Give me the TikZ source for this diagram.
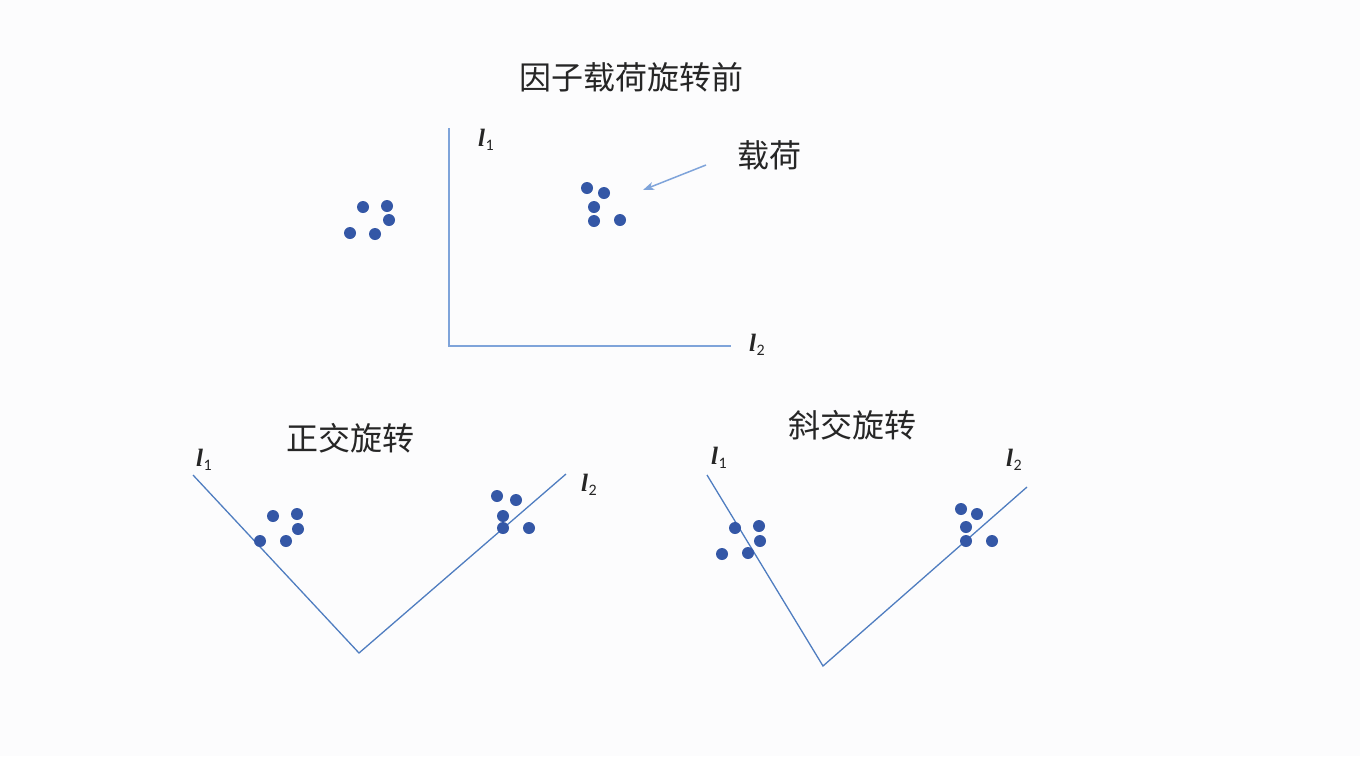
\documentclass[tikz,border=0pt]{standalone}
\usepackage{fontspec}
\newfontfamily\cjk{Noto Sans CJK SC}
\newfontfamily\lab{Carlito}
\newfontfamily\ellfont{Liberation Serif}
\usetikzlibrary{arrows.meta}
\definecolor{bg}{HTML}{FCFCFD}
\definecolor{axisA}{HTML}{7FA4DA}
\definecolor{axisB}{HTML}{4F7DC0}
\definecolor{dotc}{HTML}{3457A6}
\tikzset{
  dotp/.style={circle,fill=dotc,inner sep=0pt,minimum width=12pt,minimum height=11pt},
  ttl/.style={font=\cjk\fontsize{32}{34}\selectfont,text=black!85,inner sep=0pt},
  axlab/.style={font=\ellfont\itshape\bfseries\fontsize{25}{27}\selectfont,text=black!85,inner sep=0pt},
  axtop/.style={draw=axisA,line width=2.2pt},
  axbot/.style={draw=axisB,line width=1.3pt},
}
\newcommand{\lsub}[1]{l\kern0.5pt\raisebox{-0.4ex}{\lab\fontsize{16}{17}\selectfont\upshape\mdseries #1}}
\begin{document}
\begin{tikzpicture}[x=1pt,y=-1pt]
\fill[bg] (0,0) rectangle (1360,756);
\useasboundingbox (0,0) rectangle (1360,756);
% ---- top panel
\node[ttl] (t1) at (631,77) {因子载荷旋转前};
\coordinate (ay) at (449,128);
\coordinate (ao) at (449,346);
\coordinate (ax) at (731,346);
\draw[axtop] (ay) -- (ao) -- (ax);
\node[axlab] (l1a) at (486,140) {\lsub{1}};
\node[axlab] (l2a) at (757,345) {\lsub{2}};
\node[ttl] (zh) at (769,155) {载荷};
\coordinate (arrS) at (706,165);
\foreach \n/\x/\y in {a1/363/207,a2/387/206,a3/389/220,a4/350/233,a5/375/234,
                     b1/587/188,b2/604/193,b3/594/207,b4/594/221,b5/620/220}
  \node[dotp] (\n) at (\x,\y) {};
\draw[axisA,line width=1.5pt,-{Stealth[length=11pt,width=8pt,inset=3pt]}] (arrS) -- (643,190) coordinate (arrE);
% ---- bottom left
\node[ttl] (t2) at (350,438) {正交旋转};
\coordinate (c1) at (193,475);
\coordinate (co) at (359,653);
\coordinate (c2) at (566,474);
\draw[axbot] (c1) -- (co) -- (c2);
\node[axlab] (l1b) at (204,460) {\lsub{1}};
\node[axlab] (l2b) at (589,485) {\lsub{2}};
\foreach \n/\x/\y in {c1d/273/516,c2d/297/514,c3d/298/529,c4d/260/541,c5d/286/541,
                     d1/497/496,d2/516/500,d3/503/516,d4/503/528,d5/529/528}
  \node[dotp] (\n) at (\x,\y) {};
% ---- bottom right
\node[ttl] (t3) at (852,425) {斜交旋转};
\coordinate (e1) at (707,475);
\coordinate (eo) at (823,666);
\coordinate (e2) at (1027,487);
\draw[axbot] (e1) -- (eo) -- (e2);
\node[axlab] (l1c) at (719,458) {\lsub{1}};
\node[axlab] (l2c) at (1014,460) {\lsub{2}};
\foreach \n/\x/\y in {e1d/735/528,e2d/759/526,e3d/760/541,e4d/722/554,e5d/748/553,
                     f1/961/509,f2/977/514,f3/966/527,f4/966/541,f5/992/541}
  \node[dotp] (\n) at (\x,\y) {};
\end{tikzpicture}
\end{document}
